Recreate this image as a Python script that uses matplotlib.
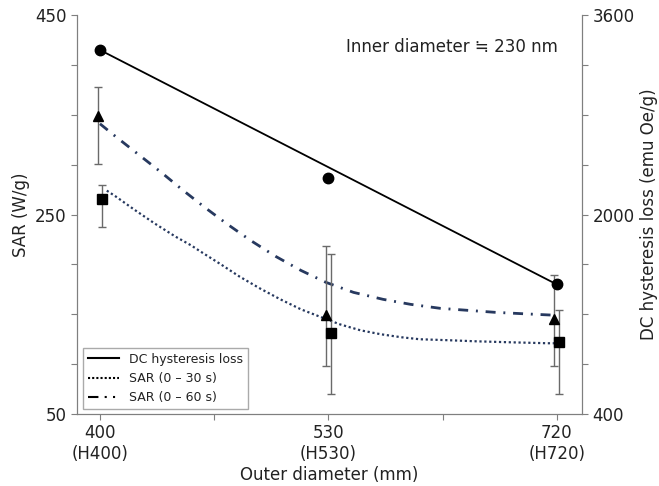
import numpy as np
import matplotlib; matplotlib.use("Agg")
import matplotlib.pyplot as plt
from matplotlib.lines import Line2D

plt.rcParams['font.family'] = ['DejaVu Sans']

# data
categories = ['400\n(H400)', '530\n(H530)', '720\n(H720)']
dc_loss = [3320, 2296, 1440]           # emu Oe/g (right axis)
sar60 = [349, 149, 145]                # W/g, triangles
sar60_lo = [48, 51, 47]
sar60_hi = [29, 69, 44]
sar30 = [266, 131, 122]                # W/g, squares
sar30_lo = [28, 61, 52]
sar30_hi = [14, 79, 32]

# fitted trend curves
fit60_x = [0.0, 0.07, 0.17, 0.27, 0.36, 0.46, 0.56, 0.66, 0.77, 0.88, 0.99,
           1.11, 1.24, 1.36, 1.49, 1.61, 1.73, 1.86, 2.0]
fit60_y = [341, 328, 310, 292, 275, 257, 240, 224, 208, 194, 182,
           172, 165, 160, 156, 154, 152, 150.5, 149]
fit30_x = [0.03, 0.07, 0.15, 0.24, 0.33, 0.40, 0.44, 0.53, 0.61, 0.70, 0.79,
           0.88, 0.97, 1.05, 1.14, 1.23, 1.32, 1.40, 1.53, 1.64, 1.79, 1.96, 2.0]
fit30_y = [274, 268, 255, 241, 228, 219, 213, 200, 188, 176, 165,
           155, 147, 140, 134, 130, 127, 125, 124, 123, 122, 121, 121]

NAVY = "#27395f"; GREY = "#7f7f7f"; INK = "#222222"; EB = "#6a6a6a"

fig = plt.figure(figsize=(6.59, 4.86), dpi=100)
ax = fig.add_axes([0.117, 0.148, 0.766, 0.821])
ax2 = ax.twinx()
x = np.arange(len(categories))
off = 0.01

# SAR curves + points (left axis)
ax.plot(fit60_x, fit60_y, color=NAVY, lw=2.0, ls=(0, (3.6, 2.8, 0.7, 2.8)), zorder=3)
ax.plot(fit30_x, fit30_y, color=NAVY, lw=1.6, ls=(0, (1, 1.2)), zorder=3)
ax.errorbar(x - off, sar60, yerr=[sar60_lo, sar60_hi], fmt='^', color='black', ms=7.5,
            ecolor=EB, elinewidth=1, capsize=3, capthick=1, zorder=4)
ax.errorbar(x + off, sar30, yerr=[sar30_lo, sar30_hi], fmt='s', color='black', ms=7,
            ecolor=EB, elinewidth=1, capsize=3, capthick=1, zorder=4)

# DC hysteresis loss (right axis)
ax2.plot([x[0], x[-1]], [dc_loss[0], dc_loss[-1]], color='black', lw=1.3, zorder=3)
ax2.plot(x, dc_loss, 'o', color='black', ms=7.5, zorder=4)

ax.set_xlim(-0.1, 2.11)
ax.set_ylim(50, 450)
ax2.set_ylim(400, 3600)
ax.set_xticks(np.arange(0, 2.01, 0.5))
ax.set_xticklabels([categories[0], '', categories[1], '', categories[2]])
ax.set_yticks(range(50, 451, 50))
ax.set_yticklabels([str(v) if v in (50, 250, 450) else '' for v in range(50, 451, 50)])
ax2.set_yticks(range(400, 3601, 400))
ax2.set_yticklabels([str(v) if v in (400, 2000, 3600) else '' for v in range(400, 3601, 400)])

for a in (ax, ax2):
    a.spines['top'].set_visible(False)
    for s in ('left', 'right', 'bottom'):
        a.spines[s].set_color(GREY)
    a.tick_params(colors=GREY, labelcolor=INK, labelsize=12, length=4)

ax.set_xlabel("Outer diameter (mm)", fontsize=12, color=INK, labelpad=2)
ax.set_ylabel("SAR (W/g)", fontsize=12, color=INK, labelpad=4)
ax2.set_ylabel("DC hysteresis loss (emu Oe/g)", fontsize=12, color=INK, labelpad=4)

ax.text(0.952, 0.92, "Inner diameter \u2252 230 nm", transform=ax.transAxes,
        ha='right', va='center', fontsize=12, color=INK)

handles = [Line2D([], [], color='black', lw=1.5),
           Line2D([], [], color='black', lw=1.5, ls=(0, (1, 1))),
           Line2D([], [], color='black', lw=1.5, ls=(0, (5, 3, 1, 3, 1, 3)))]
labels = ["DC hysteresis loss", "SAR (0 \u2013 30 s)", "SAR (0 \u2013 60 s)"]
ax.legend(handles, labels, loc='lower left', bbox_to_anchor=(0.012, 0.012),
          borderaxespad=0, fontsize=9, fancybox=False, edgecolor='#aaaaaa',
          framealpha=1, handlelength=2.5, labelcolor=INK)

plt.savefig("out.png", dpi=100)
